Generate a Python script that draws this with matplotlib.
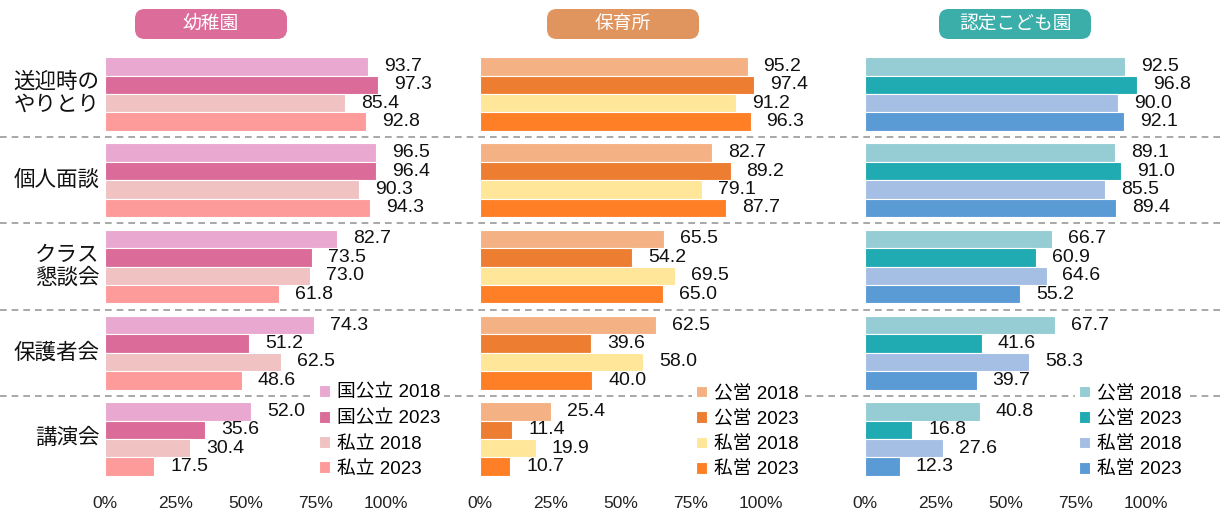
import matplotlib.pyplot as plt
from matplotlib.patches import FancyBboxPatch
from matplotlib.lines import Line2D
from matplotlib.transforms import blended_transform_factory

plt.rcParams['font.family'] = ['Liberation Sans', 'Noto Sans CJK JP', 'DejaVu Sans']

# 項目
items = ['送迎時の\nやりとり', '個人面談', 'クラス\n懇談会', '保護者会', '講演会']

# 幼稚園
kinder_pub18 = [93.7, 96.5, 82.7, 74.3, 52.0]
kinder_pub23 = [97.3, 96.4, 73.5, 51.2, 35.6]
kinder_pri18 = [85.4, 90.3, 73.0, 62.5, 30.4]
kinder_pri23 = [92.8, 94.3, 61.8, 48.6, 17.5]
kinder_labels = ['国公立 2018', '国公立 2023', '私立 2018', '私立 2023']

# 保育所
nursery_pub18 = [95.2, 82.7, 65.5, 62.5, 25.4]
nursery_pub23 = [97.4, 89.2, 54.2, 39.6, 11.4]
nursery_pri18 = [91.2, 79.1, 69.5, 58.0, 19.9]
nursery_pri23 = [96.3, 87.7, 65.0, 40.0, 10.7]
nursery_labels = ['公営 2018', '公営 2023', '私営 2018', '私営 2023']

# 認定こども園
center_pub18 = [92.5, 89.1, 66.7, 67.7, 40.8]
center_pub23 = [96.8, 91.0, 60.9, 41.6, 16.8]
center_pri18 = [90.0, 85.5, 64.6, 58.3, 27.6]
center_pri23 = [92.1, 89.4, 55.2, 39.7, 12.3]
center_labels = ['公営 2018', '公営 2023', '私営 2018', '私営 2023']

xticks = [0, 25, 50, 75, 100]
xtick_labels = ['0%', '25%', '50%', '75%', '100%']

panels = [
    ('幼稚園', '#DC6D9A',
     [kinder_pub18, kinder_pub23, kinder_pri18, kinder_pri23], kinder_labels,
     ['#E9A8CF', '#DB6B98', '#F0C2C2', '#FD9A9A']),
    ('保育所', '#E0955F',
     [nursery_pub18, nursery_pub23, nursery_pri18, nursery_pri23], nursery_labels,
     ['#F4B183', '#ED7D31', '#FFE699', '#FF7F27']),
    ('認定こども園', '#3CAEAA',
     [center_pub18, center_pub23, center_pri18, center_pri23], center_labels,
     ['#96CDD4', '#20AAB1', '#A5BEE3', '#5B9BD5']),
]

W, H = 1225, 516
fig = plt.figure(figsize=(W / 100, H / 100), dpi=100)

ax_left = [105, 480, 865]
ax_w = 281
ax_top, ax_bot = 50, 485
title_cx = [211, 623, 1015]
legend_x = [315, 692, 1075]

pitch = 0.214
offsets = [-1.5 * pitch, -0.5 * pitch, 0.5 * pitch, 1.5 * pitch]
group_px = 86.25
y0_px = 94

axes = []
for k, (title, tcolor, series, labels, colors) in enumerate(panels):
    ax = fig.add_axes([ax_left[k] / W, 1 - ax_bot / H, ax_w / W, (ax_bot - ax_top) / H])
    ax.patch.set_alpha(0)
    axes.append(ax)
    for j, vals in enumerate(series):
        ys = [i + offsets[j] for i in range(len(items))]
        bars = ax.barh(ys, vals, height=pitch, color=colors[j], edgecolor='white',
                       linewidth=0.8, label=labels[j])
        for b, v in zip(bars, vals):
            ax.annotate(f'{v:.1f}', (v, b.get_y() + b.get_height() / 2),
                        xytext=(11.5, 0), textcoords='offset points',
                        ha='left', va='center', fontsize=14, color='#111111',
                        annotation_clip=False)
    ax.set_xlim(0, 100)
    ax.set_ylim((ax_bot - y0_px) / group_px, -(y0_px - ax_top) / group_px)
    ax.set_xticks(xticks)
    ax.set_xticklabels(xtick_labels, fontsize=12.5, color='#222222')
    ax.tick_params(axis='x', length=0, pad=8)
    ax.set_yticks([])
    for s in ax.spines.values():
        s.set_visible(False)

    leg = ax.legend(loc='upper left', bbox_to_anchor=(legend_x[k] / W, 1 - 381 / H),
                    bbox_transform=fig.transFigure, frameon=True, fontsize=13.5,
                    handlelength=0.6, handleheight=0.6, handletextpad=0.35,
                    labelspacing=0.44, borderpad=0.2, borderaxespad=0)
    leg.get_frame().set_facecolor('white')
    leg.get_frame().set_edgecolor('none')
    leg.get_frame().set_alpha(1)
    leg.set_zorder(5)

    # タイトルボックス
    bw, bh = 152, 30
    box = FancyBboxPatch(((title_cx[k] - bw / 2) / W, 1 - 39 / H), bw / W, bh / H,
                         boxstyle='round,pad=0,rounding_size=0.008',
                         transform=fig.transFigure, facecolor=tcolor,
                         edgecolor='none', mutation_aspect=W / H)
    fig.patches.append(box)
    fig.text(title_cx[k] / W, 1 - 24 / H, title, ha='center', va='center',
             fontsize=13.5, color='white')

# 区切り線
tr = blended_transform_factory(fig.transFigure, axes[0].transData)
for i in range(len(items) - 1):
    fig.lines.append(Line2D([0, 1], [i + 0.5, i + 0.5], transform=tr,
                            color='#999999', linestyle=(0, (4, 3)),
                            linewidth=1.2, zorder=-1))

# 項目ラベル
for i, name in enumerate(items):
    axes[0].text(-2, i, name, ha='right', va='center', fontsize=15.5,
                 multialignment='right', linespacing=1.1, color='#111111',
                 transform=axes[0].transData)

fig.savefig('out.png', dpi=100, facecolor='white')
